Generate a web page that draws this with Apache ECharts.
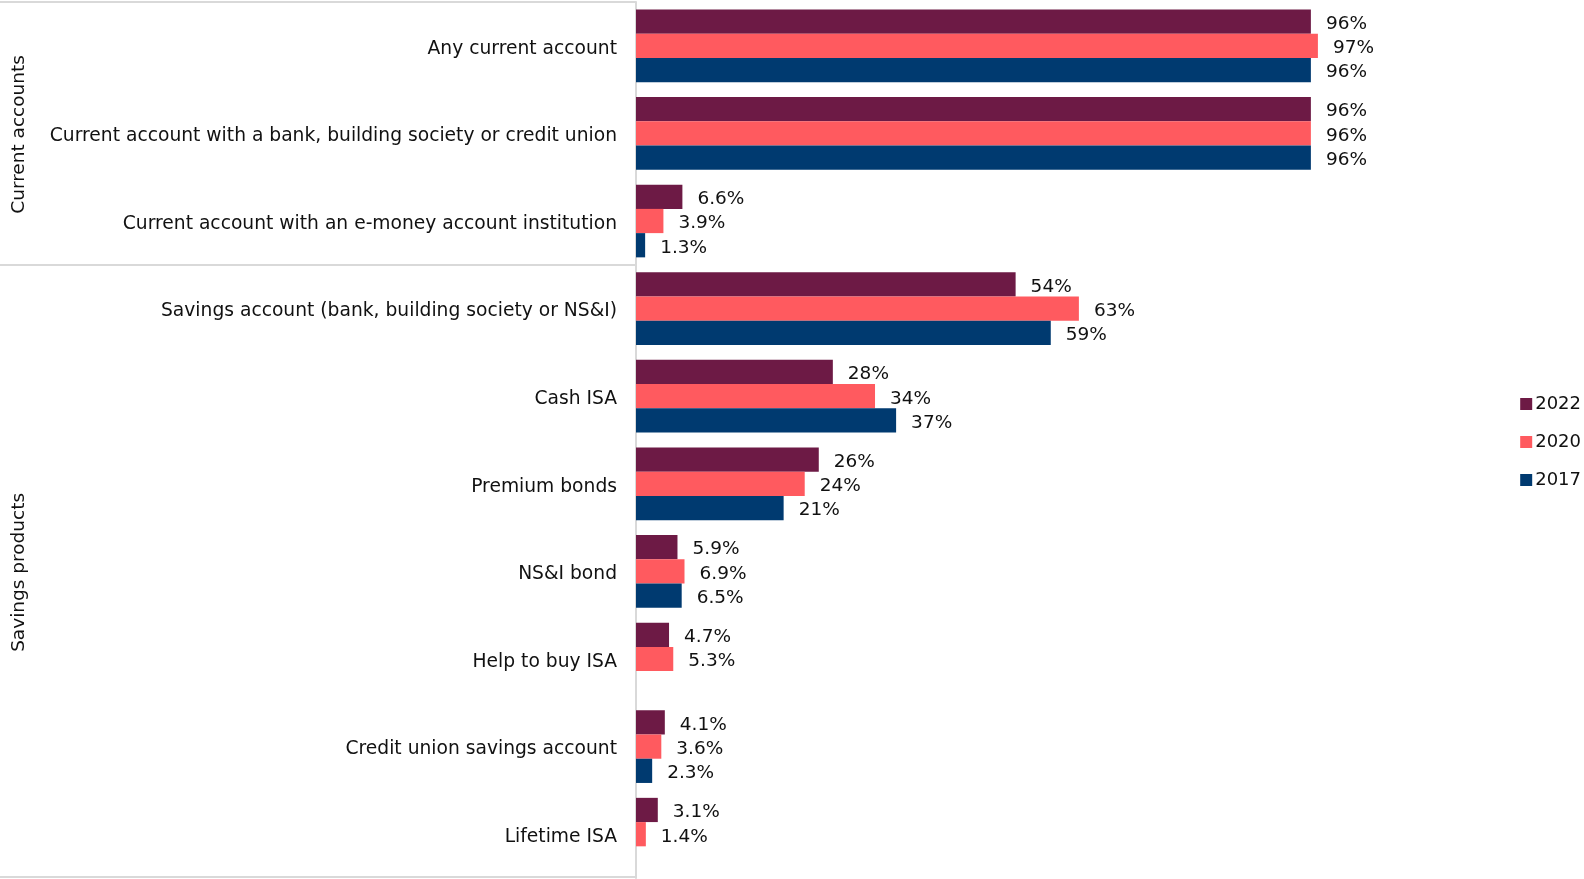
<!DOCTYPE html>
<html>
<head>
<meta charset="utf-8">
<script src="https://cdn.jsdelivr.net/npm/echarts@6/dist/echarts.min.js"></script>
<style>
  html, body { margin: 0; padding: 0; background: #fff; }
  #chart { width: 1584px; height: 879px; }
</style>
</head>
<body>
<div id="chart"></div>
<script>
// Product holdings by survey year (% of adults)
const categories = [
  'Any current account',
  'Current account with a bank, building society or credit union',
  'Current account with an e-money account institution',
  'Savings account (bank, building society or NS&I)',
  'Cash ISA',
  'Premium bonds',
  'NS&I bond',
  'Help to buy ISA',
  'Credit union savings account',
  'Lifetime ISA'
];
const years = ['2022', '2020', '2017'];
const values2022 = [96, 96, 6.6, 54, 28, 26, 5.9, 4.7, 4.1, 3.1];
const values2020 = [97, 96, 3.9, 63, 34, 24, 6.9, 5.3, 3.6, 1.4];
const values2017 = [96, 96, 1.3, 59, 37, 21, 6.5, null, 2.3, null];
// Groups: label and number of categories they span (in order)
const groupNames = ['Current accounts', 'Savings products'];
const groupSizes = [3, 7];

const colors = ['#6d1a45', '#ff5a5f', '#003a70'];
const FONT = '"DejaVu Sans", Verdana, sans-serif';
const TEXT = '#111';

const chart = echarts.init(document.getElementById('chart'), null, { renderer: 'canvas' });

function fmt(p) {
  const v = p.value;
  if (v == null) return '';
  return (v >= 10 ? v.toFixed(0) : v.toFixed(1)) + '%';
}

const seriesData = [values2022, values2020, values2017];

chart.setOption({
  animation: false,
  color: colors,
  textStyle: { fontFamily: FONT },
  grid: { left: 636, right: 245, top: 2, bottom: 1, containLabel: false },
  legend: {
    orient: 'vertical',
    right: 3,
    top: 395,
    padding: 0,
    itemWidth: 12,
    itemHeight: 12,
    itemGap: 20,
    icon: 'rect',
    textStyle: { fontSize: 18, color: TEXT, fontFamily: FONT, padding: [2, 0, 0, -2] },
    data: years
  },
  xAxis: {
    type: 'value',
    min: 0,
    max: 100,
    show: false,
    splitLine: { show: false }
  },
  yAxis: {
    type: 'category',
    inverse: true,
    data: categories,
    axisLine: { show: true, lineStyle: { color: '#d9d9d9', width: 2 } },
    axisTick: { show: false },
    axisLabel: {
      margin: 19,
      formatter: v => '{c|' + v + '}',
      rich: {
        c: { fontSize: 18.7, color: TEXT, fontFamily: FONT, padding: [6, 0, 0, 0] }
      }
    }
  },
  series: years.map((y, i) => ({
    name: y,
    type: 'bar',
    data: seriesData[i],
    barGap: '0%',
    barCategoryGap: '17%',
    itemStyle: { color: colors[i] },
    label: {
      show: true,
      position: 'right',
      distance: 15,
      offset: [0, 2.5],
      fontSize: 18.5,
      color: TEXT,
      fontFamily: FONT,
      formatter: fmt
    }
  }))
});

// Group separators and rotated group labels, placed from the category axis scale
function drawGroups() {
  const c0 = chart.convertToPixel({ yAxisIndex: 0 }, categories[0]);
  const c1 = chart.convertToPixel({ yAxisIndex: 0 }, categories[1]);
  const band = c1 - c0;
  const axisX = chart.convertToPixel({ xAxisIndex: 0 }, 0);
  const elements = [];
  let start = 0;
  const boundaries = [c0 - band / 2];
  groupSizes.forEach((n, gi) => {
    const top = chart.convertToPixel({ yAxisIndex: 0 }, categories[start]) - band / 2;
    const bottom = chart.convertToPixel({ yAxisIndex: 0 }, categories[start + n - 1]) + band / 2;
    boundaries.push(bottom);
    elements.push({
      type: 'text',
      x: 19,
      y: (top + bottom) / 2 + 1,
      rotation: Math.PI / 2,
      style: {
        text: groupNames[gi],
        fontSize: 18.5,
        fontFamily: FONT,
        fill: TEXT,
        align: 'center',
        verticalAlign: 'middle'
      }
    });
    start += n;
  });
  boundaries.forEach(yb => {
    const yy = Math.min(Math.round(yb), 877);
    elements.push({
      type: 'line',
      shape: { x1: 0, y1: yy, x2: axisX, y2: yy },
      style: { stroke: '#d9d9d9', lineWidth: 2 }
    });
  });
  chart.setOption({ graphic: elements });
}
drawGroups();
</script>
</body>
</html>
